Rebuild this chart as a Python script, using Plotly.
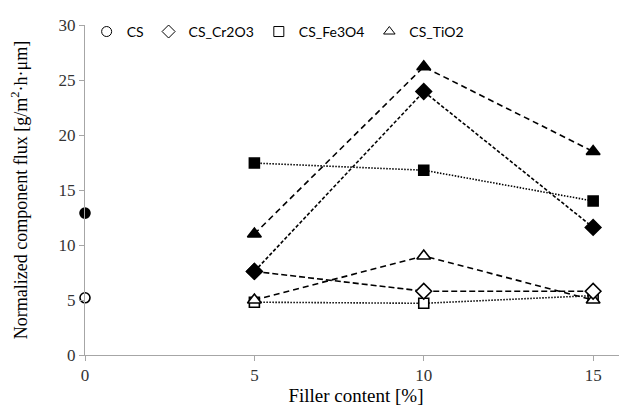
import plotly.graph_objects as go

filler = [5, 10, 15]
cs_x = [0]
cs_filled = [12.9]
cs_open = [5.2]
cr2o3_filled = [7.6, 23.95, 11.6]
cr2o3_open = [7.6, 5.8, 5.8]
fe3o4_filled = [17.45, 16.8, 14.0]
fe3o4_open = [4.8, 4.7, 5.4]
tio2_filled = [11.0, 26.2, 18.5]
tio2_open = [5.0, 9.0, 5.0]
legend_names = ["CS", "CS_Cr2O3", "CS_Fe3O4", "CS_TiO2"]

fig = go.Figure()

def add(x, y, symbol, filled, dash, size):
    fig.add_trace(go.Scatter(
        x=x, y=y, mode="lines+markers" if len(x) > 1 else "markers",
        line=dict(color="black", width=1.6, dash=dash),
        marker=dict(symbol=symbol, size=size,
                    color="black" if filled else "white",
                    line=dict(color="black", width=1.6)),
        showlegend=False, cliponaxis=False))

add(filler, fe3o4_open, "square", False, "1.5px,1.5px", 10)
add(filler, tio2_open, "triangle-up", False, "6px,4px", 12)
add(filler, cr2o3_open, "diamond", False, "6px,3px", 12)
add(filler, fe3o4_filled, "square", True, "1.5px,1.5px", 10)
add(filler, cr2o3_filled, "diamond", True, "3.5px,2px", 12)
add(filler, tio2_filled, "triangle-up", True, "6px,4px", 12)
add(cs_x, cs_filled, "circle", True, None, 10)
add(cs_x, cs_open, "circle", False, None, 10)

for name, sym in zip(legend_names, ["circle", "diamond", "square", "triangle-up"]):
    fig.add_trace(go.Scatter(
        x=[None], y=[None], mode="markers", name=name,
        marker=dict(symbol=sym, size=10, color="white",
                    line=dict(color="black", width=1))))

fig.update_layout(
    width=627, height=407,
    margin=dict(l=77, r=8, t=10, b=60),
    paper_bgcolor="white", plot_bgcolor="white",
    showlegend=True,
    legend=dict(orientation="h", x=0.003, xanchor="left", y=0.979, yanchor="middle",
                font=dict(family="Lato", size=14, color="black"),
                bgcolor="rgba(0,0,0,0)", itemwidth=30),
    xaxis=dict(range=[0, 16], tickvals=[0, 5, 10, 15], showgrid=False, zeroline=False,
               showline=True, linecolor="#a6a6a6", linewidth=1,
               ticks="outside", tickcolor="#a6a6a6", ticklen=5,
               tickfont=dict(family="Liberation Serif", size=17, color="#333"),
               title=dict(text="Filler content [%]",
                          font=dict(family="Liberation Serif", size=19, color="black"),
                          standoff=2)),
    yaxis=dict(range=[0, 30], tickvals=[0, 5, 10, 15, 20, 25, 30], showgrid=False, zeroline=False,
               showline=True, linecolor="#a6a6a6", linewidth=1,
               ticks="outside", tickcolor="#a6a6a6", ticklen=5,
               tickfont=dict(family="Liberation Serif", size=17, color="#333"),
               title=dict(text="Normalized component flux [g/m<sup>2</sup>·h·μm]",
                          font=dict(family="Liberation Serif", size=18, color="black"),
                          standoff=26)),
)

fig.write_html("out.html")
